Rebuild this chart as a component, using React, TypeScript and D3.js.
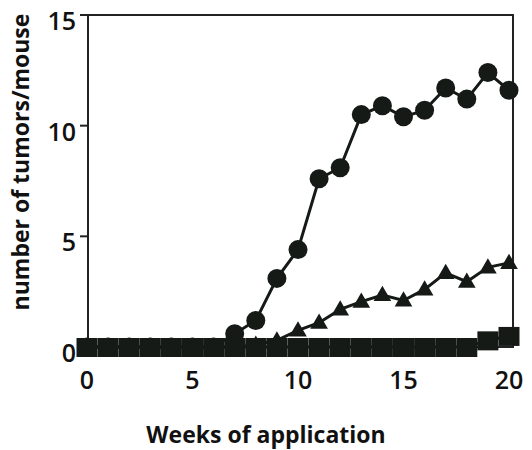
import React, { useRef, useEffect } from 'react';
import * as d3 from 'd3';

const weeks = d3.range(0, 21);
const circleValues = [0, 0, 0, 0, 0, 0, 0, 0.6, 1.2, 3.1, 4.4, 7.6, 8.1, 10.5, 10.9, 10.4, 10.7, 11.7, 11.2, 12.4, 11.6];
const triangleValues = [0, 0, 0, 0, 0, 0, 0, 0, 0.1, 0.3, 0.75, 1.1, 1.7, 2.05, 2.35, 2.1, 2.6, 3.35, 2.95, 3.6, 3.8];
const squareValues = [0, 0, 0, 0, 0, 0, 0, 0, 0, 0, 0, 0, 0, 0, 0, 0, 0, 0, 0, 0.3, 0.5];
const xTicks = [0, 5, 10, 15, 20];
const yTicks = [0, 5, 10, 15];

const W = 532;
const H = 450;
const FONT = '"Open Sans", "Liberation Sans", sans-serif';

const App: React.FC = () => {
  const svgRef = useRef<SVGSVGElement>(null);

  useEffect(() => {
    if (!svgRef.current) return;
    const svg = d3.select(svgRef.current);
    svg.selectAll('*').remove();

    const x = d3.scaleLinear().domain([0, 20]).range([87, 509]);
    const y = d3.scaleLinear().domain([0, 15]).range([347, 15]);

    // frame
    svg
      .append('rect')
      .attr('x', 88)
      .attr('y', 15)
      .attr('width', 513 - 88)
      .attr('height', 347 - 15)
      .attr('fill', 'none')
      .attr('stroke', '#222')
      .attr('stroke-width', 2);

    // y ticks
    const yAxis = svg.append('g');
    yTicks.forEach((t) => {
      yAxis
        .append('line')
        .attr('x1', 80)
        .attr('x2', 88)
        .attr('y1', y(t))
        .attr('y2', y(t))
        .attr('stroke', '#222')
        .attr('stroke-width', 2);
      yAxis
        .append('text')
        .attr('x', 76)
        .attr('y', y(t) + 6)
        .attr('dy', '0.36em')
        .attr('text-anchor', 'end')
        .attr('font-family', FONT)
        .attr('font-size', 25)
        .attr('font-weight', 600)
        .attr('fill', '#111')
        .text(t);
    });

    // x tick labels
    xTicks.forEach((t) => {
      svg
        .append('text')
        .attr('x', x(t))
        .attr('y', 380)
        .attr('dy', '0.36em')
        .attr('text-anchor', 'middle')
        .attr('font-family', FONT)
        .attr('font-size', 25)
        .attr('font-weight', 600)
        .attr('fill', '#111')
        .text(t);
    });

    // axis titles
    svg
      .append('text')
      .attr('transform', `translate(21, 162) rotate(-90)`)
      .attr('dy', '0.36em')
      .attr('text-anchor', 'middle')
      .attr('font-family', FONT)
      .attr('font-size', 23)
      .attr('font-weight', 700)
      .attr('fill', '#111')
      .text('number of tumors/mouse');

    svg
      .append('text')
      .attr('x', 266)
      .attr('y', 435)
      .attr('dy', '0.36em')
      .attr('text-anchor', 'middle')
      .attr('font-family', FONT)
      .attr('font-size', 23)
      .attr('font-weight', 700)
      .attr('fill', '#111')
      .text('Weeks of application');

    const line = d3
      .line<number>()
      .x((_, i) => x(weeks[i]))
      .y((d) => y(d));

    const ink = '#151a17';

    // circles series
    svg
      .append('path')
      .datum(circleValues)
      .attr('d', line)
      .attr('fill', 'none')
      .attr('stroke', ink)
      .attr('stroke-width', 3);
    svg
      .append('g')
      .selectAll('circle')
      .data(circleValues)
      .enter()
      .append('circle')
      .attr('cx', (_, i) => x(weeks[i]))
      .attr('cy', (d) => y(d))
      .attr('r', 9.5)
      .attr('fill', ink);

    // triangles series
    svg
      .append('path')
      .datum(triangleValues)
      .attr('d', line)
      .attr('fill', 'none')
      .attr('stroke', ink)
      .attr('stroke-width', 3);
    const tri = d3.symbol().type(d3.symbolTriangle).size(135);
    svg
      .append('g')
      .selectAll('path')
      .data(triangleValues)
      .enter()
      .append('path')
      .attr('d', tri)
      .attr('transform', (d, i) => `translate(${x(weeks[i])},${y(d) + 1})`)
      .attr('fill', ink);

    // squares series
    svg
      .append('path')
      .datum(squareValues)
      .attr('d', line)
      .attr('fill', 'none')
      .attr('stroke', ink)
      .attr('stroke-width', 3);
    svg
      .append('g')
      .selectAll('rect')
      .data(squareValues)
      .enter()
      .append('rect')
      .attr('x', (_, i) => x(weeks[i]) - 10.5)
      .attr('y', (d) => y(d) - 9)
      .attr('width', 21)
      .attr('height', 19)
      .attr('fill', ink);
  }, []);

  return (
    <div style={{ position: 'absolute', left: 0, top: 0, background: '#fff' }}>
      <svg ref={svgRef} width={W} height={H} style={{ display: 'block' }} />
    </div>
  );
};

export default App;
